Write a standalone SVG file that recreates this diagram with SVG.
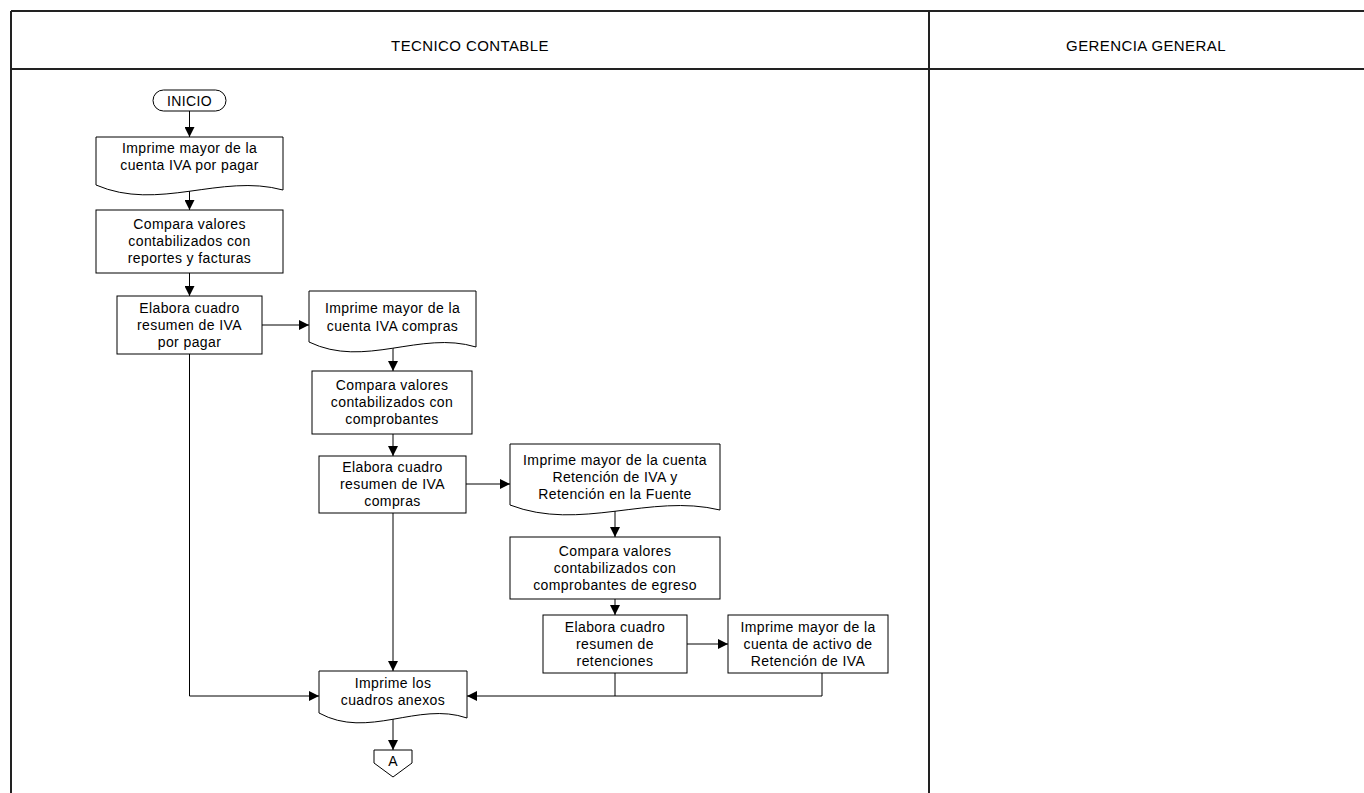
<svg xmlns="http://www.w3.org/2000/svg" width="1364" height="793" viewBox="0 0 1364 793">
  <style>
    .lane { stroke: #222; stroke-width: 2; fill: none; }
    .shape { fill: #fff; stroke: #000; stroke-width: 1; }
    .link { fill: none; stroke: #000; stroke-width: 1; }
    .hdr { font-family: "Liberation Sans", Arial, sans-serif; font-size: 15px; letter-spacing: 0.4px; fill: #000; text-anchor: middle; }
    .lbl { font-family: "Liberation Sans", Arial, sans-serif; font-size: 14px; letter-spacing: 0.4px; fill: #000; text-anchor: middle; }
  </style>
  <defs>
    <marker id="arrow" viewBox="0 0 10 10" refX="10" refY="5" markerWidth="10" markerHeight="10" markerUnits="userSpaceOnUse" orient="auto">
      <path d="M0,0 L10,5 L0,10 Z" fill="#000"/>
    </marker>
  </defs>

  <rect x="0" y="0" width="1364" height="793" fill="#fff"/>

  <!-- swimlane frame -->
  <g id="lanes">
    <line class="lane" x1="11" y1="11" x2="1364" y2="11"/>
    <line class="lane" x1="11" y1="69" x2="1364" y2="69"/>
    <line class="lane" x1="11" y1="11" x2="11" y2="793"/>
    <line class="lane" x1="929" y1="11" x2="929" y2="793"/>
    <text class="hdr" x="470" y="51">TECNICO CONTABLE</text>
    <text class="hdr" x="1146" y="51">GERENCIA GENERAL</text>
  </g>

  <!-- connectors -->
  <g id="connectors">
    <line class="link" x1="189.5" y1="111" x2="189.5" y2="137" marker-end="url(#arrow)"/>
    <line class="link" x1="189.5" y1="188" x2="189.5" y2="210" marker-end="url(#arrow)"/>
    <line class="link" x1="189.5" y1="273" x2="189.5" y2="296" marker-end="url(#arrow)"/>
    <line class="link" x1="262" y1="325" x2="309" y2="325" marker-end="url(#arrow)"/>
    <line class="link" x1="393" y1="346" x2="393" y2="371" marker-end="url(#arrow)"/>
    <line class="link" x1="393" y1="434" x2="393" y2="456" marker-end="url(#arrow)"/>
    <line class="link" x1="466" y1="484" x2="510" y2="484" marker-end="url(#arrow)"/>
    <line class="link" x1="615" y1="509" x2="615" y2="537" marker-end="url(#arrow)"/>
    <line class="link" x1="615" y1="599" x2="615" y2="615" marker-end="url(#arrow)"/>
    <line class="link" x1="687" y1="644" x2="728" y2="644" marker-end="url(#arrow)"/>
    <polyline class="link" points="189.5,354 189.5,696 319,696" marker-end="url(#arrow)"/>
    <line class="link" x1="393" y1="513" x2="393" y2="671" marker-end="url(#arrow)"/>
    <polyline class="link" points="822,673 822,696 467,696" marker-end="url(#arrow)"/>
    <line class="link" x1="615" y1="673" x2="615" y2="696"/>
    <line class="link" x1="393" y1="716" x2="393" y2="750" marker-end="url(#arrow)"/>
  </g>

  <!-- nodes -->
  <g id="inicio">
    <rect class="shape" x="153" y="90" width="73" height="21" rx="10.5" ry="10.5"/>
    <text class="lbl" x="189.5" y="105.5">INICIO</text>
  </g>

  <g id="doc-iva-por-pagar">
    <path class="shape" d="M96,137 H283 V190 C220.7,173 158.3,212 96,185 Z"/>
    <text class="lbl" x="189.5" y="153">Imprime mayor de la</text>
    <text class="lbl" x="189.5" y="170">cuenta IVA por pagar</text>
  </g>

  <g id="compara-reportes">
    <rect class="shape" x="96" y="210" width="187" height="63"/>
    <text class="lbl" x="189.5" y="229">Compara valores</text>
    <text class="lbl" x="189.5" y="246">contabilizados con</text>
    <text class="lbl" x="189.5" y="263">reportes y facturas</text>
  </g>

  <g id="cuadro-iva-por-pagar">
    <rect class="shape" x="117" y="296" width="145" height="58"/>
    <text class="lbl" x="189.5" y="313">Elabora cuadro</text>
    <text class="lbl" x="189.5" y="330">resumen de IVA</text>
    <text class="lbl" x="189.5" y="347">por pagar</text>
  </g>

  <g id="doc-iva-compras">
    <path class="shape" d="M309,291 H476 V347 C420.3,330 364.7,369 309,342 Z"/>
    <text class="lbl" x="392.5" y="313">Imprime mayor de la</text>
    <text class="lbl" x="392.5" y="331">cuenta IVA compras</text>
  </g>

  <g id="compara-comprobantes">
    <rect class="shape" x="312" y="371" width="160" height="63"/>
    <text class="lbl" x="392" y="390">Compara valores</text>
    <text class="lbl" x="392" y="407">contabilizados con</text>
    <text class="lbl" x="392" y="424">comprobantes</text>
  </g>

  <g id="cuadro-iva-compras">
    <rect class="shape" x="319" y="456" width="147" height="57"/>
    <text class="lbl" x="392.5" y="472">Elabora cuadro</text>
    <text class="lbl" x="392.5" y="489">resumen de IVA</text>
    <text class="lbl" x="392.5" y="506">compras</text>
  </g>

  <g id="doc-retencion">
    <path class="shape" d="M510,444 H720 V510 C650,493 580,532 510,505 Z"/>
    <text class="lbl" x="615" y="465">Imprime mayor de la cuenta</text>
    <text class="lbl" x="615" y="482">Retención de IVA y</text>
    <text class="lbl" x="615" y="499">Retención en la Fuente</text>
  </g>

  <g id="compara-egreso">
    <rect class="shape" x="510" y="537" width="210" height="62"/>
    <text class="lbl" x="615" y="556">Compara valores</text>
    <text class="lbl" x="615" y="573">contabilizados con</text>
    <text class="lbl" x="615" y="590">comprobantes de egreso</text>
  </g>

  <g id="cuadro-retenciones">
    <rect class="shape" x="543" y="615" width="144" height="58"/>
    <text class="lbl" x="615" y="632">Elabora cuadro</text>
    <text class="lbl" x="615" y="649">resumen de</text>
    <text class="lbl" x="615" y="666">retenciones</text>
  </g>

  <g id="activo-retencion">
    <rect class="shape" x="728" y="615" width="160" height="58"/>
    <text class="lbl" x="808" y="632">Imprime mayor de la</text>
    <text class="lbl" x="808" y="649">cuenta de activo de</text>
    <text class="lbl" x="808" y="666">Retención de IVA</text>
  </g>

  <g id="doc-cuadros-anexos">
    <path class="shape" d="M319,671 H467 V718 C417.7,701 368.3,740 319,713 Z"/>
    <text class="lbl" x="393" y="688">Imprime los</text>
    <text class="lbl" x="393" y="705">cuadros anexos</text>
  </g>

  <g id="conector-a">
    <path class="shape" d="M374,750 H412 V763 L393,777 L374,763 Z"/>
    <text class="lbl" x="393" y="766">A</text>
  </g>
</svg>
